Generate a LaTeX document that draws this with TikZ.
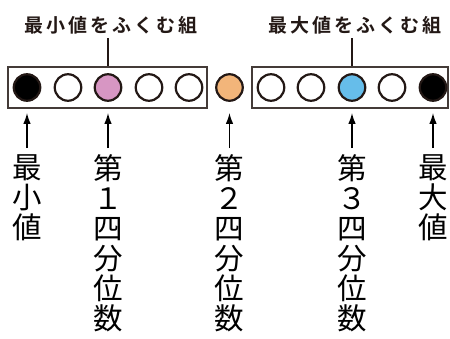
\documentclass[tikz,border=0pt]{standalone}
\usepackage{fontspec}
\newfontfamily\jp{Noto Sans CJK JP}
\newfontfamily\jpb{Noto Sans CJK JP Bold}
\usetikzlibrary{arrows.meta}
\definecolor{inkc}{RGB}{35,24,21}
\definecolor{pinkc}{RGB}{215,150,195}
\definecolor{orangec}{RGB}{242,181,122}
\definecolor{bluec}{RGB}{102,189,234}
\tikzset{
  ball/.style={circle,draw=inkc,line width=2.2pt,minimum size=26.5pt,inner sep=0pt},
  grp/.style={draw=inkc!85,line width=1.3pt,inner sep=0pt},
  toplab/.style={font=\jpb\fontsize{19}{21}\selectfont\addfontfeature{LetterSpace=16},inner sep=0pt,text=inkc},
  vlab/.style={font=\jp\fontsize{29.5}{30}\selectfont,align=center,inner sep=0pt,anchor=north,text=black},
  arr/.style={-{Latex[length=11pt,width=7.5pt]},line width=1.6pt,black},
  link/.style={line width=1.2pt,inkc}
}
\begin{document}
\begin{tikzpicture}[x=1pt,y=-1pt]
\useasboundingbox (0,0) rectangle (450,338);
% boxes
\node[grp,minimum width=199pt,minimum height=41pt] (g1) at (107.5,87.5) {};
\node[grp,minimum width=196pt,minimum height=41pt] (g2) at (350,87.5) {};
% balls
\node[ball,fill=black] (c1) at (27,87.5) {};
\node[ball,fill=white] (c2) at (68,87.5) {};
\node[ball,fill=pinkc] (c3) at (108,87.5) {};
\node[ball,fill=white] (c4) at (149,87.5) {};
\node[ball,fill=white] (c5) at (189,87.5) {};
\node[ball,fill=orangec] (c6) at (229.5,87.5) {};
\node[ball,fill=white] (c7) at (271,87.5) {};
\node[ball,fill=white] (c8) at (311,87.5) {};
\node[ball,fill=bluec] (c9) at (352,87.5) {};
\node[ball,fill=white] (c10) at (392,87.5) {};
\node[ball,fill=black] (c11) at (433,87.5) {};
% top labels
\node[toplab] (t1) at (111,25) {最小値をふくむ組};
\node[toplab] (t2) at (355,25) {最大値をふくむ組};
\draw[link] ([yshift=-4pt]t1.south -| c3) -- (g1.north -| c3);
\draw[link] ([yshift=-4pt]t2.south -| c9) -- (g2.north -| c9);
% vertical labels
\node[vlab] (l1) at (27,154) {最\\小\\値};
\node[vlab] (l2) at (108,154) {第\\１\\四\\分\\位\\数};
\node[vlab] (l3) at (229.5,154) {第\\２\\四\\分\\位\\数};
\node[vlab] (l4) at (352,154) {第\\３\\四\\分\\位\\数};
\node[vlab] (l5) at (433,154) {最\\大\\値};
% arrows
\foreach \l/\c in {l1/c1,l2/c3,l3/c6,l4/c9,l5/c11}
  \draw[arr] ([yshift=6pt]\l.north) -- ([yshift=-11pt]\c.south);
\end{tikzpicture}
\end{document}
